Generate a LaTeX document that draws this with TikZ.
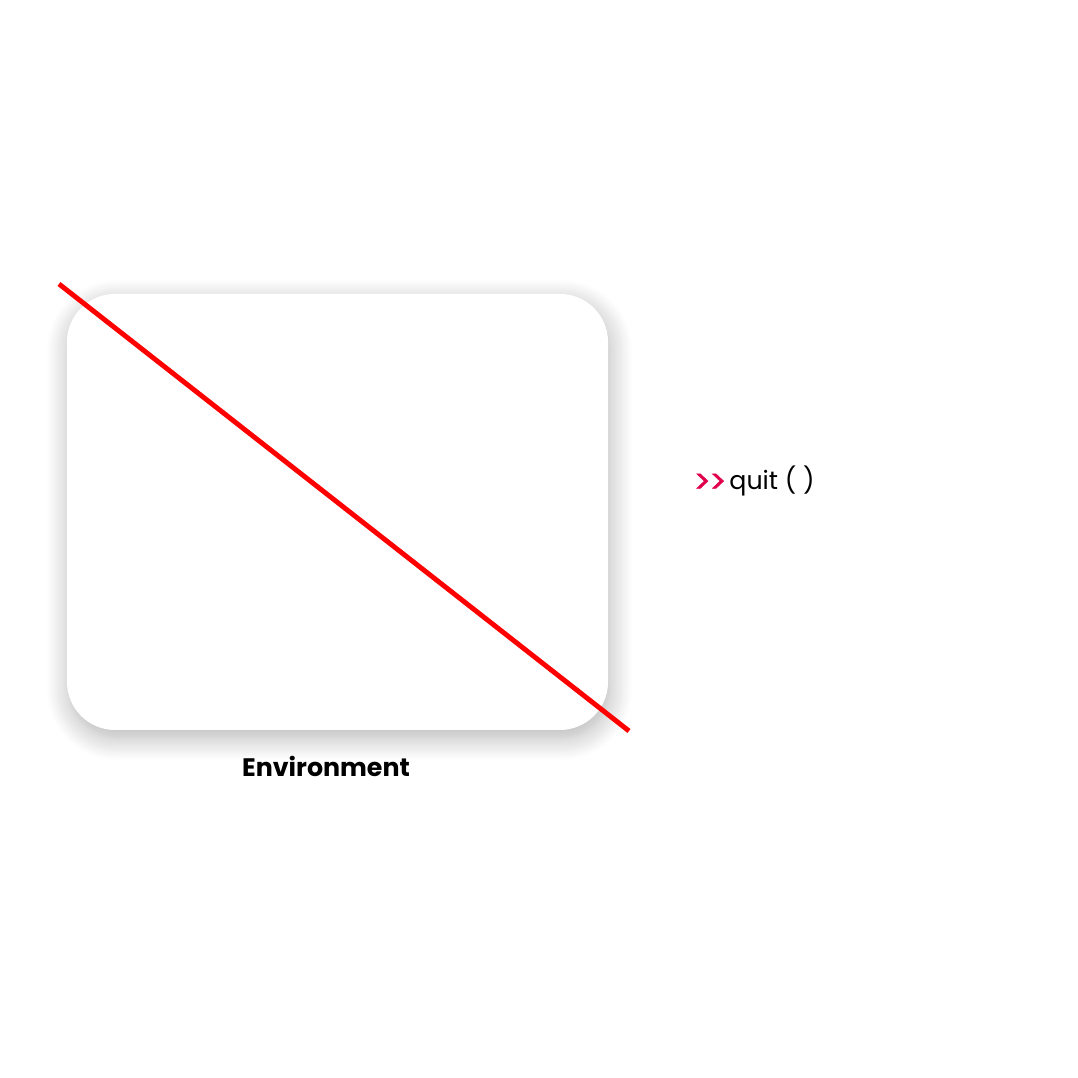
\documentclass[tikz,border=0pt]{standalone}
\usepackage{fontspec}
\setmainfont{Poppins}
\definecolor{envred}{RGB}{255,0,0}
\definecolor{promptred}{RGB}{225,0,75}
\usetikzlibrary{positioning,shadows.blur}

\begin{document}
\begin{tikzpicture}[
  envbox/.style={draw=none, fill=white, rounded corners=0.48cm, minimum width=5.41cm, minimum height=4.36cm, blur shadow={shadow xshift=0.02cm, shadow yshift=-0.08cm, shadow blur steps=12, shadow blur radius=0.22cm, shadow opacity=30}},
  crossout/.style={draw=envred, line width=1.4pt},
  caption/.style={font=\fontsize{7.2}{8}\selectfont\bfseries}
]
  \useasboundingbox (0,0) rectangle (10.78,10.78);
  %% Environment box
  \node[envbox] (env) at (3.375,5.66) {};
  \node[caption, anchor=center] (envlabel) at (3.26,3.12) {Environment};
  %% crossed out
  \coordinate (cross-a) at (0.59,7.94);
  \coordinate (cross-b) at (6.29,3.47);
  \draw[crossout] (cross-a) -- (cross-b);
  %% command
  \node[anchor=west, inner sep=0pt, font=\fontsize{7.2}{8}\selectfont] (quit) at (6.93,5.97) {\textcolor{promptred}{\fontsize{9}{10}\selectfont\addfontfeature{Ligatures=NoCommon,Contextuals=NoAlternate,FakeBold=1.5}\raisebox{-0.9pt}{{>}\kern-0.4pt{>}}}\hspace{0.03cm}quit ( )};
\end{tikzpicture}
\end{document}
